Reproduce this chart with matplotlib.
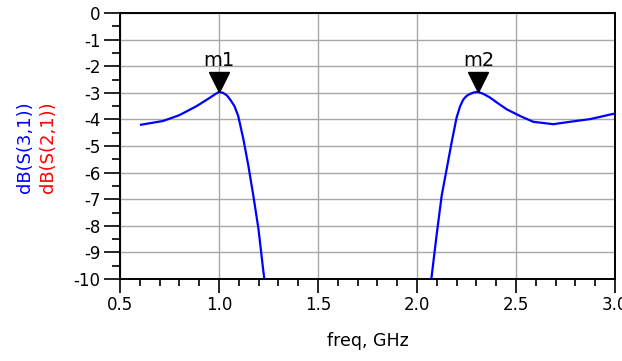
import numpy as np
import matplotlib
matplotlib.use("Agg")
import matplotlib.pyplot as plt
from matplotlib import transforms
from matplotlib.ticker import MultipleLocator

plt.rcParams['axes.unicode_minus'] = False
plt.rcParams['font.family'] = ['DejaVu Sans']

# dB(S(3,1)) (values below -10 dB are off-scale)
freq_a = [0.606, 0.717, 0.80, 0.887, 0.955, 0.985, 1.0, 1.02, 1.04, 1.056, 1.078, 1.097, 1.123, 1.148,
          1.173, 1.199, 1.224, 1.24]
s31_a = [-4.2, -4.06, -3.84, -3.5, -3.18, -3.03, -2.97, -3.0, -3.1, -3.25, -3.5, -3.87, -4.74, -5.73,
         -6.85, -8.1, -9.71, -10.6]
freq_b = [2.066, 2.074, 2.099, 2.125, 2.150, 2.175, 2.20, 2.218, 2.234, 2.25, 2.268, 2.29, 2.31, 2.335,
          2.369, 2.41, 2.453, 2.52, 2.587, 2.688, 2.773, 2.874, 2.98, 3.0]
s31_b = [-10.6, -9.9, -8.35, -6.85, -5.86, -4.86, -3.93, -3.5, -3.25, -3.12, -3.04, -2.98, -2.97, -3.04,
         -3.18, -3.4, -3.62, -3.87, -4.09, -4.18, -4.09, -3.99, -3.81, -3.78]

marker_names = ["m1", "m2"]
marker_freq = [1.0, 2.31]
marker_val = [-2.97, -2.97]

x_ticks = [0.5, 1.0, 1.5, 2.0, 2.5, 3.0]
x_ticklabels = ["0.5", "1.0", "1.5", "2.0", "2.5", "3.0"]
y_ticks = [0, -1, -2, -3, -4, -5, -6, -7, -8, -9, -10]

W, H = 622, 361
fig = plt.figure(figsize=(W / 100, H / 100), dpi=100)
ax = fig.add_axes([120 / W, (H - 279) / H, (615 - 120) / W, (279 - 13) / H])

freq = freq_a + [np.nan] + freq_b
s31 = s31_a + [np.nan] + s31_b
ax.plot(freq, s31, color='#0000ff', lw=1.6, zorder=3)

ax.set_xlim(0.5, 3.0)
ax.set_ylim(-10, 0)
ax.set_xticks(x_ticks)
ax.set_xticklabels(x_ticklabels)
ax.set_yticks(y_ticks)
ax.set_yticklabels([str(v) for v in y_ticks])
ax.xaxis.set_minor_locator(MultipleLocator(0.1))
ax.yaxis.set_minor_locator(MultipleLocator(0.5))

ax.grid(True, which='major', color='#a8a8a8', lw=1.0)
ax.set_axisbelow(True)
for s in ax.spines.values():
    s.set_linewidth(1.4)
    s.set_color('black')

ax.tick_params(axis='y', which='major', direction='out', length=11.5, width=1.2, pad=2.5, labelsize=12)
ax.tick_params(axis='y', which='minor', direction='out', length=5.8, width=1.2)
ax.tick_params(axis='x', which='major', direction='out', length=10, width=1.2, pad=2.5, labelsize=12)
ax.tick_params(axis='x', which='minor', direction='out', length=5, width=1.2)

ax.set_xlabel("freq, GHz", fontsize=12.5, labelpad=13)

# markers: triangle tip on the data point
tri_tr = transforms.offset_copy(ax.transData, fig=fig, x=0, y=7.2, units='points')
txt_tr = transforms.offset_copy(ax.transData, fig=fig, x=0, y=18.5, units='points')
for name, fx, fv in zip(marker_names, marker_freq, marker_val):
    ax.plot([fx], [fv], marker='v', markersize=14.4, color='black', transform=tri_tr,
            clip_on=False, zorder=4, linestyle='none')
    ax.text(fx, fv, name, transform=txt_tr, ha='center', va='baseline', fontsize=14,
            color='black', zorder=5)

fig.text(25 / W, (H - 147) / H, "dB(S(3,1))", rotation=90, color='#0000ff', fontsize=13,
         ha='center', va='center')
fig.text(48 / W, (H - 147) / H, "dB(S(2,1))", rotation=90, color='#ff0000', fontsize=13,
         ha='center', va='center')

fig.savefig("out.png", dpi=100)
